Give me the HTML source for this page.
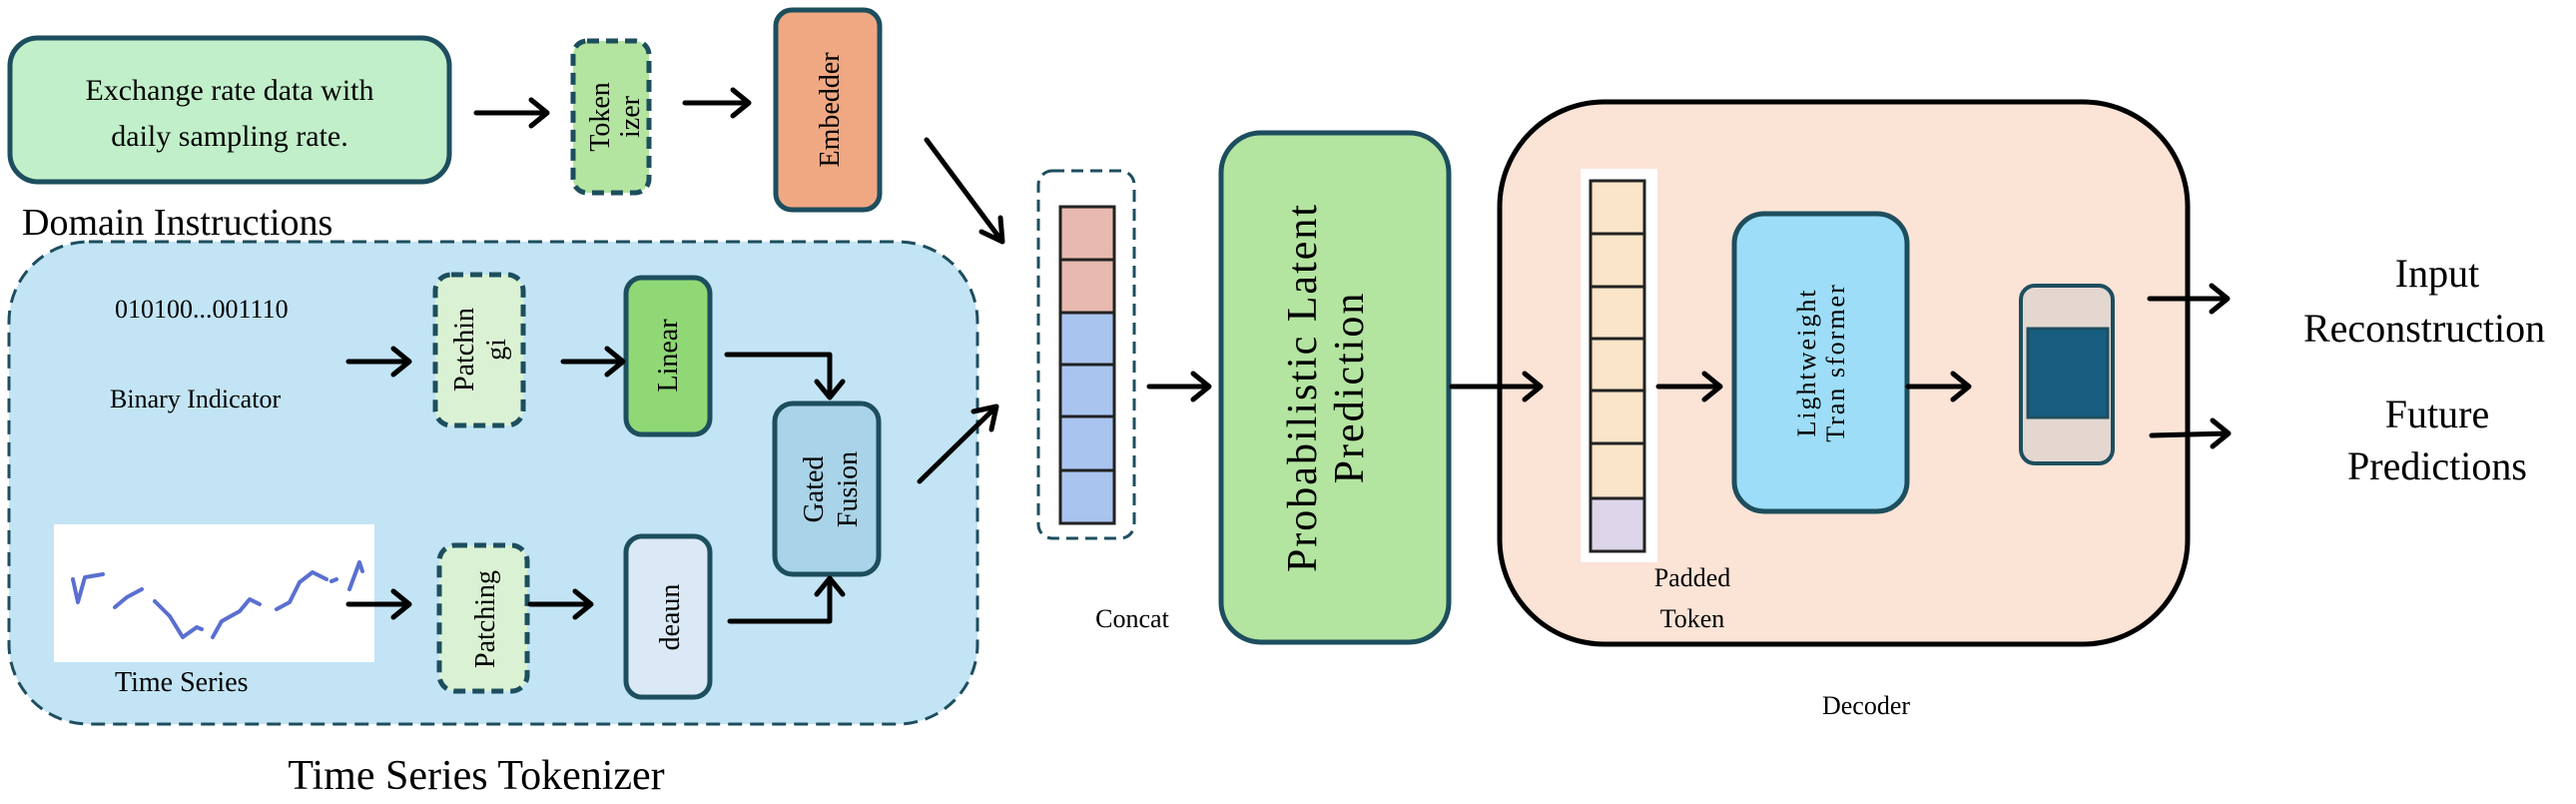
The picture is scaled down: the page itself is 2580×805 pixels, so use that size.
<!DOCTYPE html>
<html><head><meta charset="utf-8"><style>
html,body{margin:0;padding:0;background:#fff;width:2580px;height:805px;overflow:hidden}
svg{display:block}
text{font-family:"Liberation Serif",serif;fill:#000}
</style></head><body>
<svg width="2580" height="805" viewBox="0 0 2580 805" xmlns="http://www.w3.org/2000/svg">
<defs>
<marker id="ah" markerWidth="10" markerHeight="10" refX="8" refY="5" orient="auto" markerUnits="userSpaceOnUse" viewBox="0 0 10 10">
</marker>
</defs>
<g fill="none" stroke="#000" stroke-width="5" stroke-linecap="round" stroke-linejoin="round">
</g>

<!-- Domain instructions -->
<rect x="10" y="38" width="440" height="144" rx="28" fill="#c1efc9" stroke="#1d4e5e" stroke-width="5"/>
<text x="230" y="100" font-size="30" text-anchor="middle">Exchange rate data with</text>
<text x="230" y="146" font-size="30" text-anchor="middle">daily sampling rate.</text>
<text x="22" y="235" font-size="38">Domain Instructions</text>

<rect x="574" y="41" width="76" height="152" rx="14" fill="#b3e4a0" stroke="#1d4e5e" stroke-width="5" stroke-dasharray="12,7"/>
<text transform="translate(610,117) rotate(-90)" font-size="28" text-anchor="middle">Token</text>
<text transform="translate(640,117) rotate(-90)" font-size="28" text-anchor="middle">izer</text>

<rect x="777" y="10" width="104" height="200" rx="16" fill="#f0a882" stroke="#1d4e5e" stroke-width="5"/>
<text transform="translate(840,110) rotate(-90)" font-size="28" text-anchor="middle">Embedder</text>

<!-- Tokenizer region -->
<rect x="9" y="242" width="970" height="483" rx="80" fill="#c2e4f5" stroke="#1d4e5e" stroke-width="3" stroke-dasharray="14,8"/>
<text x="477" y="790" font-size="42" text-anchor="middle">Time Series Tokenizer</text>
<text x="115" y="318" font-size="26">010100...001110</text>
<text x="110" y="408" font-size="26">Binary Indicator</text>

<rect x="436" y="275" width="88" height="151" rx="16" fill="#daf2d3" stroke="#1d4e5e" stroke-width="5" stroke-dasharray="12,7"/>
<text transform="translate(474,350) rotate(-90)" font-size="28" text-anchor="middle">Patchin</text>
<text transform="translate(506,350) rotate(-90)" font-size="28" text-anchor="middle">gi</text>

<rect x="627" y="278" width="84" height="157" rx="16" fill="#8fd875" stroke="#1d4e5e" stroke-width="5"/>
<text transform="translate(678,356) rotate(-90)" font-size="28" text-anchor="middle">Linear</text>

<rect x="776" y="404" width="104" height="171" rx="18" fill="#a9d3e8" stroke="#1d4e5e" stroke-width="5"/>
<text transform="translate(824,490) rotate(-90)" font-size="28" text-anchor="middle">Gated</text>
<text transform="translate(858,490) rotate(-90)" font-size="28" text-anchor="middle">Fusion</text>

<rect x="54" y="525" width="321" height="138" fill="#fff"/>
<g fill="none" stroke="#5a6fd0" stroke-width="4" stroke-linejoin="round" stroke-linecap="round">
<polyline points="73,580 78,603 85,578 103,575"/>
<polyline points="115,608 127,598 142,590"/>
<polyline points="155,602 170,617 183,638 197,628 202,630"/>
<polyline points="213,638 222,622 240,612 250,600 260,605"/>
<polyline points="277,610 290,603 300,583 313,573 327,580"/>
<polyline points="332,582 337,580"/>
<polyline points="350,590 360,563 363,572"/>
</g>
<text x="115" y="692" font-size="28">Time Series</text>

<rect x="440" y="546" width="88" height="146" rx="16" fill="#daf2d3" stroke="#1d4e5e" stroke-width="5" stroke-dasharray="12,7"/>
<text transform="translate(495,620) rotate(-90)" font-size="28" text-anchor="middle">Patching</text>

<rect x="627" y="537" width="84" height="161" rx="16" fill="#dae9f5" stroke="#1d4e5e" stroke-width="5"/>
<text transform="translate(680,618) rotate(-90)" font-size="28" text-anchor="middle">deaun</text>

<!-- Concat -->
<rect x="1040" y="171" width="96" height="368" rx="14" fill="none" stroke="#1d4e5e" stroke-width="3" stroke-dasharray="12,7"/>
<g stroke="#222" stroke-width="3">
<rect x="1062" y="207" width="54" height="53" fill="#e8b9ae"/>
<rect x="1062" y="260" width="54" height="53" fill="#e8b9ae"/>
<rect x="1062" y="313" width="54" height="52" fill="#a9c4ef"/>
<rect x="1062" y="365" width="54" height="52" fill="#a9c4ef"/>
<rect x="1062" y="417" width="54" height="54" fill="#a9c4ef"/>
<rect x="1062" y="471" width="54" height="53" fill="#a9c4ef"/>
</g>
<text x="1134" y="628" font-size="26" text-anchor="middle">Concat</text>

<rect x="1223" y="133" width="228" height="510" rx="40" fill="#b3e4a0" stroke="#1d4e5e" stroke-width="5"/>
<text transform="translate(1318,388) rotate(-90)" font-size="42" text-anchor="middle" letter-spacing="2">Probabilistic Latent</text>
<text transform="translate(1365,388) rotate(-90)" font-size="42" text-anchor="middle" letter-spacing="2">Prediction</text>

<!-- Decoder -->
<rect x="1502" y="102" width="689" height="543" rx="105" fill="#fbe3d6" stroke="#000" stroke-width="5"/>
<text x="1869" y="715" font-size="26" text-anchor="middle">Decoder</text>
<rect x="1583" y="169" width="77" height="394" fill="#fff"/>
<g stroke="#222" stroke-width="3">
<rect x="1593" y="181" width="54" height="53" fill="#fbe5c8"/>
<rect x="1593" y="234" width="54" height="53" fill="#fbe5c8"/>
<rect x="1593" y="287" width="54" height="52" fill="#fbe5c8"/>
<rect x="1593" y="339" width="54" height="52" fill="#fbe5c8"/>
<rect x="1593" y="391" width="54" height="53" fill="#fbe5c8"/>
<rect x="1593" y="444" width="54" height="55" fill="#fbe5c8"/>
<rect x="1593" y="499" width="54" height="53" fill="#ddd5ea"/>
</g>
<text x="1695" y="587" font-size="26" text-anchor="middle">Padded</text>
<text x="1695" y="628" font-size="26" text-anchor="middle">Token</text>

<rect x="1737" y="214" width="173" height="298" rx="30" fill="#9dddf7" stroke="#1d4e5e" stroke-width="5"/>
<text transform="translate(1818,363) rotate(-90)" font-size="26" text-anchor="middle" letter-spacing="2">Lightweight</text>
<text transform="translate(1847,363) rotate(-90)" font-size="26" text-anchor="middle" letter-spacing="2">Tran sformer</text>

<rect x="2024" y="286" width="92" height="178" rx="14" fill="#e3d7d0" stroke="#1d4e5e" stroke-width="4"/>
<rect x="2031" y="329" width="80" height="89" fill="#175e80" stroke="#1d4e5e" stroke-width="3"/>

<text x="2441" y="287" font-size="40" text-anchor="middle">Input</text>
<text x="2307" y="342" font-size="40">Reconstruction</text>
<text x="2441" y="428" font-size="40" text-anchor="middle">Future</text>
<text x="2441" y="480" font-size="40" text-anchor="middle">Predictions</text>

<!-- Arrows -->
<g fill="none" stroke="#000" stroke-width="5" stroke-linecap="round" stroke-linejoin="round">
<path d="M477,113 L548,113 M532,100 L548,113 L532,126"/>
<path d="M686,103 L750,103 M734,90 L750,103 L734,116"/>
<path d="M928,140 L1004,242 M1002,218 L1004,242 L983,232"/>
<path d="M349,362 L410,362 M394,349 L410,362 L394,375"/>
<path d="M564,362 L624,362 M608,349 L624,362 L608,375"/>
<path d="M728,355 L831,355 L831,398 M818,382 L831,398 L844,382"/>
<path d="M349,605 L410,605 M394,592 L410,605 L394,618"/>
<path d="M531,605 L592,605 M576,592 L592,605 L576,618"/>
<path d="M731,622 L831,622 L831,579 M818,595 L831,579 L844,595"/>
<path d="M921,482 L998,407 M975,412 L998,407 L993,430"/>
<path d="M1151,387 L1211,387 M1195,374 L1211,387 L1195,400"/>
<path d="M1454,387 L1543,387 M1527,374 L1543,387 L1527,400"/>
<path d="M1661,387 L1723,387 M1707,374 L1723,387 L1707,400"/>
<path d="M1911,387 L1972,387 M1956,374 L1972,387 L1956,400"/>
<path d="M2153,299 L2231,299 M2215,286 L2231,299 L2215,312"/>
<path d="M2155,436 L2232,434 M2216,421 L2232,434 L2216,447"/>
</g>
</svg>
</body></html>
